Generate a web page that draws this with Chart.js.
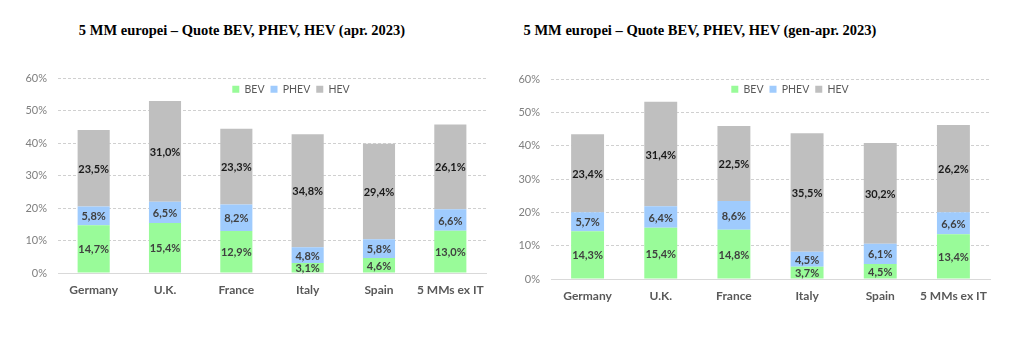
<!DOCTYPE html>
<html>
<head>
<meta charset="utf-8">
<script src="https://cdn.jsdelivr.net/npm/chart.js@4"></script>
<style>
  body { margin: 0; background: #fff; width: 1024px; height: 345px; position: relative; overflow: hidden; }
  .titolo { position: absolute; top: 22px; width: 400px; text-align: center;
            font-family: "Liberation Serif", serif; font-weight: bold; font-size: 14.5px; color: #000; }
  canvas { position: absolute; top: 0; }
</style>
</head>
<body>
<div class="titolo" style="left:42px">5 MM europei – Quote BEV, PHEV, HEV (apr. 2023)</div>
<div class="titolo" style="left:500px">5 MM europei – Quote BEV, PHEV, HEV (gen-apr. 2023)</div>
<canvas id="graficoApr" width="500" height="345" style="left:0"></canvas>
<canvas id="graficoGenApr" width="524" height="345" style="left:500px"></canvas>
<script>
// categorie e quote (%)
const paesi = ['Germany', 'U.K.', 'France', 'Italy', 'Spain', '5 MMs ex IT'];

const bevApr = [14.7, 15.4, 12.9, 3.1, 4.6, 13.0];
const phevApr = [5.8, 6.5, 8.2, 4.8, 5.8, 6.6];
const hevApr = [23.5, 31.0, 23.3, 34.8, 29.4, 26.1];

const bevGenApr = [14.3, 15.4, 14.8, 3.7, 4.5, 13.4];
const phevGenApr = [5.7, 6.4, 8.6, 4.5, 6.1, 6.6];
const hevGenApr = [23.4, 31.4, 22.5, 35.5, 30.2, 26.2];

const tickY = [0, 10, 20, 30, 40, 50, 60];

// etichette dei valori al centro di ogni segmento
const etichette = {
    id: 'etichette',
    afterDatasetsDraw(chart) {
        const c = chart.ctx;
        c.save();
        c.font = 'bold 11px Lato';
        c.textAlign = 'center';
        c.textBaseline = 'middle';
        chart.data.datasets.forEach((ds, i) => {
            const meta = chart.getDatasetMeta(i);
            meta.data.forEach((bar, j) => {
                c.fillStyle = i === 2 ? '#1a1a1a' : '#404040';
                const testo = ds.data[j].toFixed(1).replace('.', ',') + '%';
                c.fillText(testo, bar.x, (bar.y + bar.base) / 2 + 1);
            });
        });
        c.restore();
    }
};

// la legenda va dentro l'area del grafico, sotto la riga del 60%
const spostaLegenda = {
    id: 'spostaLegenda',
    afterLayout(chart) {
        const lg = chart.legend;
        const o = chart.options.plugins.spostaLegenda;
        const h = lg.height;
        lg.left += o.dx;
        lg.right += o.dx;
        lg.top = o.top;
        lg.bottom = o.top + h;
    }
};

function creaGrafico(id, bev, phev, hev, pad, largY, posLegenda) {
    return new Chart(document.getElementById(id).getContext('2d'), {
        type: 'bar',
        data: {
            labels: paesi,
            datasets: [
                { label: 'BEV', data: bev, backgroundColor: '#99fb99' },
                { label: 'PHEV', data: phev, backgroundColor: '#9fcbfd' },
                { label: 'HEV', data: hev, backgroundColor: '#bfbfbf' }
            ]
        },
        options: {
            responsive: false,
            animation: false,
            layout: { padding: pad },
            datasets: { bar: { categoryPercentage: 1, barPercentage: 0.45 } },
            plugins: {
                legend: {
                    position: 'top',
                    labels: {
                        boxWidth: 7, boxHeight: 7, padding: 6,
                        color: '#595959',
                        font: { family: 'Lato', size: 10.5 }
                    }
                },
                spostaLegenda: posLegenda,
                tooltip: { enabled: false }
            },
            scales: {
                x: {
                    stacked: true,
                    grid: { display: false, drawTicks: false },
                    border: { display: true, color: '#d9d9d9', width: 1 },
                    ticks: {
                        color: '#595959', padding: 10, maxRotation: 0, minRotation: 0, autoSkip: false,
                        font: { family: 'Lato', size: 12, weight: 'bold' }
                    },
                    afterFit(s) { s.height = 345 - pad.areaBottom; }
                },
                y: {
                    stacked: true,
                    min: 0, max: 60,
                    afterBuildTicks(s) { s.ticks = tickY.map(v => ({ value: v })); },
                    grid: {
                        drawTicks: false,
                        color: ctx => ctx.tick && ctx.tick.value === 0 ? 'rgba(0,0,0,0)' : '#d0d0d0'
                    },
                    border: { display: false, dash: [3, 2] },
                    ticks: {
                        color: '#7f7f7f', padding: 11,
                        font: { family: 'Lato', size: 11 },
                        callback: v => v + '%'
                    },
                    afterFit(s) { s.width = largY; }
                }
            }
        },
        plugins: [etichette, spostaLegenda]
    });
}

creaGrafico('graficoApr', bevApr, phevApr, hevApr,
    { top: 51.5, left: 0, right: 14, bottom: 0, areaBottom: 273 }, 58, { dx: 48, top: 78 });
creaGrafico('graficoGenApr', bevGenApr, phevGenApr, hevGenApr,
    { top: 52.5, left: 0, right: 34, bottom: 0, areaBottom: 279 }, 51, { dx: 45, top: 78 });
</script>
</body>
</html>
